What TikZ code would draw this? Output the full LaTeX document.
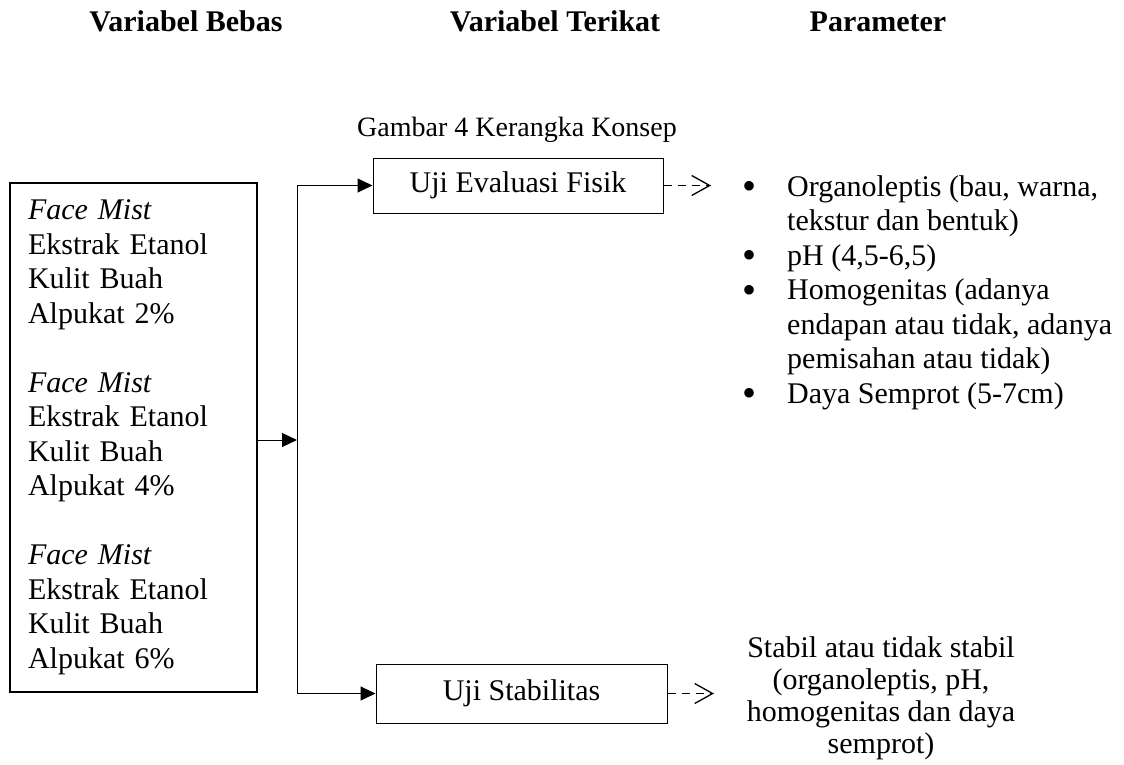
\documentclass[tikz,border=0pt]{standalone}
\usepackage{fontspec}
\setmainfont{Liberation Serif}
\usetikzlibrary{arrows.meta}
\newcommand{\bigbul}{\smash{\raisebox{-3.5pt}{\fontsize{40}{34.5}\selectfont\textbullet}}}
\begin{document}
\begin{tikzpicture}[x=1pt,y=-1pt,
  txt/.style={font=\fontsize{30}{34.5}\selectfont, inner sep=0pt},
  hdr/.style={txt, font=\fontsize{30}{34.5}\selectfont\bfseries, anchor=base},
  boxnode/.style={txt, draw, line width=1pt},
  solidarrow/.style={line width=1pt, -{Triangle[length=15pt,width=14pt]}},
  dasharrow/.style={line width=1.3pt, dash pattern=on 8pt off 6pt, -{Straight Barb[length=18pt,width=20pt,line width=1.3pt]}},
  plainline/.style={line width=1pt}]
\useasboundingbox (0,0) rectangle (1124,765);
% headers
\node[hdr] (h1) at (186,32) {Variabel Bebas};
\node[hdr] (h2) at (555,32) {Variabel Terikat};
\node[hdr] (h3) at (878,32) {Parameter};
\node[txt, font=\fontsize{28}{32}\selectfont] (cap) at (517,130) {Gambar 4 Kerangka Konsep};
% left box
\node[txt, draw, line width=2pt, text width=211pt, inner xsep=18pt, minimum height=509pt, align=left] (bebas) at (133.5,437.5)
 {\textit{Face Mist}\\Ekstrak Etanol\\Kulit Buah\\Alpukat 2\%\\[34.5pt]
  \textit{Face Mist}\\Ekstrak Etanol\\Kulit Buah\\Alpukat 4\%\\[34.5pt]
  \textit{Face Mist}\\Ekstrak Etanol\\Kulit Buah\\Alpukat 6\%};
% middle boxes
\node[boxnode, minimum width=290pt, minimum height=55pt] (fisik) at (518,185.5) {Uji Evaluasi Fisik};
\node[boxnode, minimum width=291pt, minimum height=59pt] (stab) at (521.5,693.5) {Uji Stabilitas};
% connectors
\coordinate (jt) at (297,185.5);
\coordinate (jb) at (297,693.5);
\coordinate (jm) at (297,440);
\draw[plainline] (jt) -- (jb);
\draw[solidarrow] (bebas.east |- jm) -- (jm);
\draw[solidarrow] (jt) -- (fisik.west);
\draw[solidarrow] (jb) -- (stab.west);
\coordinate (d1) at (711,185.5);
\coordinate (d2) at (714,693.5);
\draw[dasharrow] (fisik.east) -- (d1);
\draw[dasharrow] (stab.east) -- (d2);
% parameter list
\node[txt, anchor=north west, align=left] (param) at (742,172)
 {\begin{tabular}{@{}l@{}l@{}}
  \makebox[45pt][l]{\bigbul} & Organoleptis (bau, warna,\\
   & tekstur dan bentuk)\\
  \bigbul & pH (4,5-6,5)\\
  \bigbul & Homogenitas (adanya\\
   & endapan atau tidak, adanya\\
   & pemisahan atau tidak)\\
  \bigbul & Daya Semprot (5-7cm)
 \end{tabular}};
\node[txt, align=center, font=\fontsize{30}{32}\selectfont] (stabtext) at (881,698)
 {Stabil atau tidak stabil\\(organoleptis, pH,\\homogenitas dan daya\\semprot)};
\end{tikzpicture}
\end{document}
